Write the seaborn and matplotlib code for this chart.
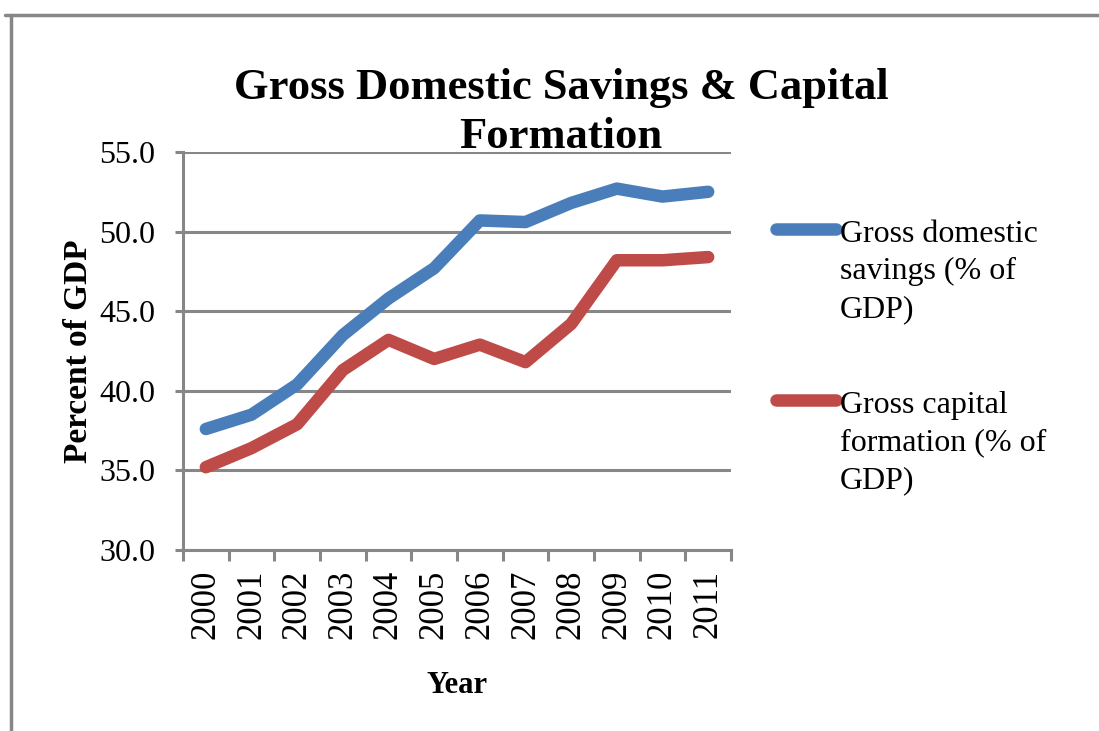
import matplotlib
matplotlib.use("Agg")
import matplotlib.pyplot as plt
from matplotlib.lines import Line2D
import pandas as pd
import seaborn as sns

years = ["2000", "2001", "2002", "2003", "2004", "2005",
         "2006", "2007", "2008", "2009", "2010", "2011"]
savings = [37.6, 38.5, 40.4, 43.5, 45.8, 47.7, 50.7, 50.6, 51.8, 52.7, 52.2, 52.5]
capital = [35.2, 36.4, 37.9, 41.3, 43.2, 42.0, 42.9, 41.8, 44.2, 48.2, 48.2, 48.4]
series_names = ["Gross domestic\nsavings (% of\nGDP)",
                "Gross capital\nformation (% of\nGDP)"]
series_colors = ["#4a7ebb", "#be4b48"]
y_ticks = [30.0, 35.0, 40.0, 45.0, 50.0, 55.0]

sns.set_style("white")
plt.rcParams["font.family"] = ["Liberation Serif", "DejaVu Serif"]
plt.rcParams["text.color"] = "black"
plt.rcParams["axes.labelcolor"] = "black"
plt.rcParams["xtick.color"] = "black"
plt.rcParams["ytick.color"] = "black"

df = pd.DataFrame({
    "pos": list(range(len(years))) * 2,
    "value": savings + capital,
    "series": [series_names[0]] * len(years) + [series_names[1]] * len(years),
})

grey = "#878787"
W, H = 1099, 731
fig = plt.figure(figsize=(W / 100, H / 100), dpi=100)
ax = fig.add_axes([183 / W, 1 - 550 / H, (731 - 183) / W, (550 - 152) / H])

sns.lineplot(data=df, x="pos", y="value", hue="series", hue_order=series_names,
             palette=series_colors, linewidth=9, legend=False, ax=ax,
             solid_capstyle="round", solid_joinstyle="round", zorder=3)

ax.set_xlim(-0.5, len(years) - 0.5)
ax.set_ylim(30, 55)
ax.set_yticks(y_ticks)
ax.set_yticklabels([f"{v:.1f}" for v in y_ticks], fontsize=23)
ax.yaxis.grid(True, color=grey, linewidth=2.2)
ax.set_axisbelow(True)

# category boundaries carry the tick marks, labels sit at the centres
ax.set_xticks([i - 0.5 for i in range(len(years) + 1)])
ax.set_xticklabels([])
ax.set_xticks(range(len(years)), minor=True)
ax.set_xticklabels(years, minor=True, rotation=90, fontsize=25)
ax.tick_params(axis="x", which="major", direction="out", length=8, width=2.2,
               color=grey, bottom=True)
ax.tick_params(axis="x", which="minor", length=0, pad=14)
ax.tick_params(axis="y", direction="out", length=6, width=2.2, color=grey,
               left=True, pad=14)

for side in ["top", "right"]:
    ax.spines[side].set_visible(False)
for side in ["left", "bottom"]:
    ax.spines[side].set_color(grey)
    ax.spines[side].set_linewidth(2.2)

ax.set_xlabel("Year", fontsize=22, fontweight="bold", labelpad=23)
ax.set_ylabel("Percent of GDP", fontsize=24, fontweight="bold", labelpad=4)

fig.text(561 / W, 1 - 148 / H, "Gross Domestic Savings & Capital\nFormation",
         ha="center", va="baseline", fontsize=32, fontweight="bold",
         linespacing=1.3)

# legend: thick key line beside the first line of each wrapped label
for name, color, ypix in zip(series_names, series_colors, [229, 400]):
    yf = 1 - ypix / H
    fig.add_artist(Line2D([776 / W, 836 / W], [yf, yf], color=color,
                          linewidth=9, solid_capstyle="round"))
    fig.text(840 / W, yf + 9 / H, name, ha="left", va="top",
             fontsize=23, linespacing=1.38)

# outer frame along the top and left edges
fig.add_artist(Line2D([5 / W, 1.0], [1 - 15 / H, 1 - 15 / H],
                      color=grey, linewidth=2.5))
fig.add_artist(Line2D([11 / W, 11 / W], [0.0, 1 - 15 / H],
                      color=grey, linewidth=2.5))

fig.savefig("out.png", dpi=100)
